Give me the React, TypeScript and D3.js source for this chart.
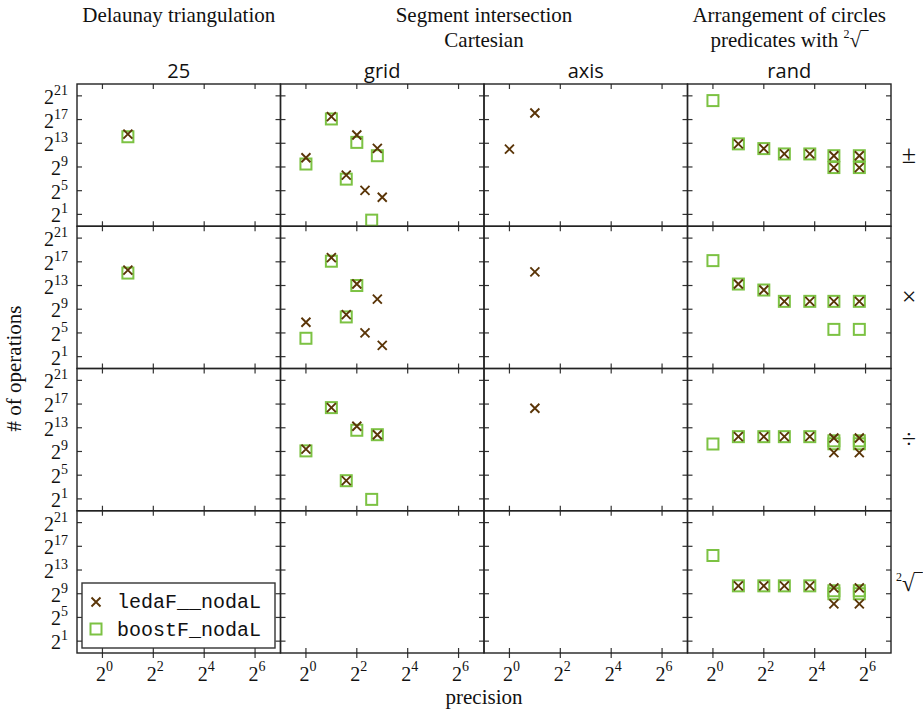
import React from "react";
import * as d3 from "d3";

const columns = ["25", "grid", "axis", "rand"];
const rowKeys = ["pm", "times", "div", "sqrt"];
const xTickExps = [0, 2, 4, 6];
const yTickExps = [1, 5, 9, 13, 17, 21];

// [row, column, precision, log2(# of operations)]
const ledaPoints: [string, string, number, number][] = [
  ["pm", "25", 2, 14.55],
  ["pm", "grid", 1, 10.55], ["pm", "grid", 2, 17.5], ["pm", "grid", 3, 7.63], ["pm", "grid", 4, 14.4],
  ["pm", "grid", 5, 5.04], ["pm", "grid", 7, 12.14], ["pm", "grid", 8, 3.9],
  ["pm", "axis", 1, 12.0], ["pm", "axis", 2, 18.1],
  ["pm", "rand", 2, 12.9], ["pm", "rand", 4, 12.1], ["pm", "rand", 7, 11.2], ["pm", "rand", 14, 11.2],
  ["pm", "rand", 27, 10.9], ["pm", "rand", 27, 8.9], ["pm", "rand", 54, 10.9], ["pm", "rand", 54, 8.9],
  ["times", "25", 2, 15.6],
  ["times", "grid", 1, 6.8], ["times", "grid", 2, 17.7], ["times", "grid", 3, 8.1], ["times", "grid", 4, 13.25],
  ["times", "grid", 5, 5.0], ["times", "grid", 7, 10.7], ["times", "grid", 8, 2.9],
  ["times", "axis", 2, 15.3],
  ["times", "rand", 2, 13.25], ["times", "rand", 4, 12.24], ["times", "rand", 7, 10.33],
  ["times", "rand", 14, 10.33], ["times", "rand", 27, 10.33], ["times", "rand", 54, 10.33],
  ["div", "grid", 1, 9.4], ["div", "grid", 2, 16.4], ["div", "grid", 3, 4.07], ["div", "grid", 4, 13.25],
  ["div", "grid", 7, 11.83],
  ["div", "axis", 2, 16.3],
  ["div", "rand", 2, 11.5], ["div", "rand", 4, 11.5], ["div", "rand", 7, 11.5], ["div", "rand", 14, 11.5],
  ["div", "rand", 27, 11.28], ["div", "rand", 27, 8.8], ["div", "rand", 54, 11.28], ["div", "rand", 54, 8.8],
  ["sqrt", "rand", 2, 10.33], ["sqrt", "rand", 4, 10.33], ["sqrt", "rand", 7, 10.33], ["sqrt", "rand", 14, 10.33],
  ["sqrt", "rand", 27, 10.0], ["sqrt", "rand", 27, 7.3], ["sqrt", "rand", 54, 10.0], ["sqrt", "rand", 54, 7.3],
];

const boostPoints: [string, string, number, number][] = [
  ["pm", "25", 2, 14.1],
  ["pm", "grid", 1, 9.5], ["pm", "grid", 2, 17.1], ["pm", "grid", 3, 6.95], ["pm", "grid", 4, 13.15],
  ["pm", "grid", 6, 0.03], ["pm", "grid", 7, 10.9],
  ["pm", "rand", 1, 20.2], ["pm", "rand", 2, 12.9], ["pm", "rand", 4, 12.1], ["pm", "rand", 7, 11.2],
  ["pm", "rand", 14, 11.2], ["pm", "rand", 27, 10.9], ["pm", "rand", 27, 8.9], ["pm", "rand", 54, 10.9],
  ["pm", "rand", 54, 8.9],
  ["times", "25", 2, 15.1],
  ["times", "grid", 1, 4.1], ["times", "grid", 2, 17.1], ["times", "grid", 3, 7.7], ["times", "grid", 4, 13.0],
  ["times", "rand", 1, 17.2], ["times", "rand", 2, 13.25], ["times", "rand", 4, 12.24], ["times", "rand", 7, 10.33],
  ["times", "rand", 14, 10.33], ["times", "rand", 27, 10.33], ["times", "rand", 27, 5.6],
  ["times", "rand", 54, 10.33], ["times", "rand", 54, 5.6],
  ["div", "grid", 1, 9.1], ["div", "grid", 2, 16.4], ["div", "grid", 3, 4.07], ["div", "grid", 4, 12.58],
  ["div", "grid", 6, 0.92], ["div", "grid", 7, 11.83],
  ["div", "rand", 1, 10.26], ["div", "rand", 2, 11.5], ["div", "rand", 4, 11.5], ["div", "rand", 7, 11.5],
  ["div", "rand", 14, 11.5], ["div", "rand", 27, 10.8], ["div", "rand", 27, 10.3], ["div", "rand", 54, 10.8],
  ["div", "rand", 54, 10.3],
  ["sqrt", "rand", 1, 15.45], ["sqrt", "rand", 2, 10.33], ["sqrt", "rand", 4, 10.33], ["sqrt", "rand", 7, 10.33],
  ["sqrt", "rand", 14, 10.33], ["sqrt", "rand", 27, 9.5], ["sqrt", "rand", 27, 9.0], ["sqrt", "rand", 54, 9.5],
  ["sqrt", "rand", 54, 9.0],
];

const WIDTH = 923;
const HEIGHT = 712;
const gridLeft = 77;
const gridRight = 891;
const gridTop = 84;
const gridBottom = 653;
const pw = (gridRight - gridLeft) / columns.length;
const ph = (gridBottom - gridTop) / rowKeys.length;

const crossColor = "#5a3508";
const squareColor = "#7cc243";
const frameColor = "#222";
const serif = "'Liberation Serif', 'DejaVu Serif', serif";
const sans = "'Open Sans', 'Noto Sans', sans-serif";
const mono = "'Liberation Mono', 'DejaVu Sans Mono', monospace";

const x = d3.scaleLog().base(2).domain([0.5, 128]).range([0, pw]);
const y = d3.scaleLog().base(2).domain([2 ** -1, 2 ** 23]).range([ph, 0]);

const crossPath = "M-4.5,-4.5L4.5,4.5M-4.5,4.5L4.5,-4.5";

const Cross = ({ cx, cy }: { cx: number; cy: number }) => (
  <path d={crossPath} transform={`translate(${cx},${cy})`} stroke={crossColor} strokeWidth={1.9} fill="none" />
);
const Square = ({ cx, cy }: { cx: number; cy: number }) => (
  <rect x={cx - 5.5} y={cy - 5.5} width={11} height={11} stroke={squareColor} strokeWidth={2} fill="none" />
);

const Panel = ({ row, col, ri, ci }: { row: string; col: string; ri: number; ci: number }) => {
  const left = gridLeft + ci * pw;
  const top = gridTop + ri * ph;
  const leda = ledaPoints.filter(d => d[0] === row && d[1] === col);
  const boost = boostPoints.filter(d => d[0] === row && d[1] === col);
  const last = ri === rowKeys.length - 1;
  return (
    <g transform={`translate(${left},${top})`}>
      {xTickExps.map(e => (
        <g key={"xt" + e} stroke="#333" strokeWidth={1.2}>
          <line x1={x(2 ** e)} x2={x(2 ** e)} y1={0} y2={5} />
          <line x1={x(2 ** e)} x2={x(2 ** e)} y1={last ? ph + 5 : ph} y2={ph - 5} />
        </g>
      ))}
      {yTickExps.map(e => (
        <g key={"yt" + e} stroke="#333" strokeWidth={1.2}>
          <line x1={0} x2={5} y1={y(2 ** e)} y2={y(2 ** e)} />
          <line x1={pw} x2={pw - 5} y1={y(2 ** e)} y2={y(2 ** e)} />
        </g>
      ))}
      <rect x={0} y={0} width={pw} height={ph} fill="none" stroke={frameColor} strokeWidth={1.4} />
      {boost.map((d, i) => <Square key={"b" + i} cx={x(d[2])} cy={y(2 ** d[3])} />)}
      {leda.map((d, i) => <Cross key={"l" + i} cx={x(d[2])} cy={y(2 ** d[3])} />)}
    </g>
  );
};

const rowLabels = ["±", "×", "÷"];

export default function App() {
  return (
    <svg width={WIDTH} height={HEIGHT} style={{ position: "absolute", left: 0, top: 0, background: "#fff" }}>
      <rect width={WIDTH} height={HEIGHT} fill="#fff" />
      {/* group titles */}
      <g fontFamily={serif} fontSize={21} textAnchor="middle" fill="#111">
        <text x={gridLeft + pw / 2} y={22}>Delaunay triangulation</text>
        <text x={gridLeft + pw * 2} y={22}>Segment intersection</text>
        <text x={gridLeft + pw * 2} y={47}>Cartesian</text>
        <text x={gridLeft + pw * 3.5} y={22}>Arrangement of circles</text>
        <text x={gridLeft + pw * 3.5} y={47}>
          predicates with <tspan fontSize={12} dy={-9}>2</tspan><tspan dy={9}>√‾</tspan>
        </text>
      </g>
      <g fontFamily={sans} fontSize={20} textAnchor="middle" fill="#111">
        {columns.map((c, i) => (
          <text key={c} x={gridLeft + pw * (i + 0.5)} y={78}>{c}</text>
        ))}
      </g>
      {rowKeys.map((r, ri) => columns.map((c, ci) => (
        <Panel key={r + c} row={r} col={c} ri={ri} ci={ci} />
      )))}
      {/* y tick labels */}
      <g fontFamily={serif} fontSize={20} textAnchor="end" fill="#111">
        {rowKeys.map((r, ri) => yTickExps.map(e => (
          <text key={r + e} x={gridLeft - 9} y={gridTop + ri * ph + y(2 ** e) + 8}>
            2<tspan fontSize={14} dy={-9}>{e}</tspan>
          </text>
        )))}
      </g>
      {/* x tick labels */}
      <g fontFamily={serif} fontSize={20} textAnchor="middle" fill="#111">
        {columns.map((c, ci) => xTickExps.map(e => (
          <text key={c + e} x={gridLeft + ci * pw + x(2 ** e) + 2} y={681}>
            2<tspan fontSize={14} dy={-10}>{e}</tspan>
          </text>
        )))}
      </g>
      <text x={(gridLeft + gridRight) / 2} y={704} fontFamily={serif} fontSize={21} textAnchor="middle" fill="#111">precision</text>
      <text transform={`translate(21,${(gridTop + gridBottom) / 2}) rotate(-90)`} fontFamily={serif} fontSize={21}
        textAnchor="middle" fill="#111">
        # of operations
      </text>
      {/* row labels */}
      <g fontFamily={serif} fontSize={26} textAnchor="middle" fill="#111">
        {rowLabels.map((l, i) => (
          <text key={l} x={909} y={gridTop + ph * (i + 0.5) + 8}>{l}</text>
        ))}
        <text x={896} y={gridTop + ph * 3.5 + 9} textAnchor="start" fontSize={23}>
          <tspan fontSize={12} dy={-10}>2</tspan><tspan dy={10}>√‾</tspan>
        </text>
      </g>
      {/* legend */}
      <g transform={`translate(82,583)`}>
        <rect width={193} height={65} fill="#fff" stroke="#333" strokeWidth={1.4} />
        <Cross cx={14} cy={19} />
        <Square cx={14} cy={46} />
        <g fontFamily={mono} fontSize={20} fill="#111">
          <text x={35} y={25}>ledaF__nodaL</text>
          <text x={35} y={53}>boostF_nodaL</text>
        </g>
      </g>
    </svg>
  );
}
